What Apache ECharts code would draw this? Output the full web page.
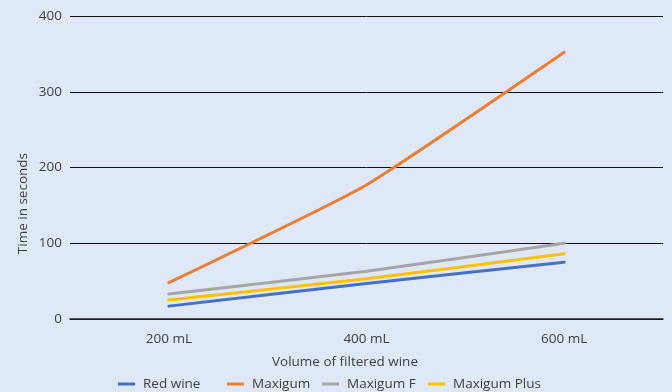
<!DOCTYPE html>
<html><head><meta charset="utf-8">
<script src="https://cdn.jsdelivr.net/npm/echarts@6/dist/echarts.min.js"></script>
<style>html,body{margin:0;padding:0;background:#dfe8f6;}#c{width:672px;height:392px;}</style>
</head><body><div id="c"></div>
<script>
const categories = ['200 mL', '400 mL', '600 mL'];
const seriesNames = ['Red wine', 'Maxigum', 'Maxigum F', 'Maxigum Plus'];
const redWine = [17, 47, 75];
const maxigum = [48, 177, 352];
const maxigumF = [33, 63, 100];
const maxigumPlus = [25, 53, 86];
const yTicks = [0, 100, 200, 300, 400];

const font = '"Open Sans", "Noto Sans", sans-serif';
const txt = '#404040';
const fs = 13.5;
const legendLeft = [113, 222, 317, 423];
const chart = echarts.init(document.getElementById('c'), null, {renderer: 'canvas'});
function s(name, data, color) {
  return {name, type: 'line', data, smooth: 0.15, symbol: 'none',
    lineStyle: {width: 3, color, cap: 'round'}, itemStyle: {color}};
}
chart.setOption({
  backgroundColor: '#dfe8f6',
  textStyle: {fontFamily: font},
  grid: {left: 70, right: 9, top: 16, bottom: 73},
  legend: seriesNames.map((n, i) => ({
    top: 372, left: legendLeft[i], itemWidth: 17, itemHeight: 3, icon: 'rect',
    textStyle: {fontFamily: font, fontSize: fs, color: txt, padding: [0, 0, 0, 3]},
    data: [n]})),
  xAxis: {type: 'category', data: categories, boundaryGap: true,
    axisLine: {lineStyle: {color: '#222', width: 1.5}}, axisTick: {show: false},
    axisLabel: {fontSize: fs, color: txt, margin: 13, fontFamily: font}},
  yAxis: {type: 'value', min: 0, max: 400, interval: 100,
    axisLine: {show: false}, axisTick: {show: false},
    axisLabel: {fontSize: fs, color: txt, margin: 8, fontFamily: font,
      formatter: v => yTicks.includes(v) ? String(v) : ''},
    splitLine: {lineStyle: {color: '#111', width: 1}}},
  graphic: [
    {type: 'text', left: 16, top: 153, rotation: Math.PI / 2,
      style: {text: 'Time in seconds', fontSize: fs, fill: txt, fontFamily: font}},
    {type: 'text', left: 272, top: 355,
      style: {text: 'Volume of filtered wine', fontSize: fs, fill: txt, fontFamily: font}}
  ],
  series: [s(seriesNames[0], redWine, '#4472c4'), s(seriesNames[1], maxigum, '#ed7d31'),
    s(seriesNames[2], maxigumF, '#a5a5a5'), s(seriesNames[3], maxigumPlus, '#ffc000')]
});
</script></body></html>
